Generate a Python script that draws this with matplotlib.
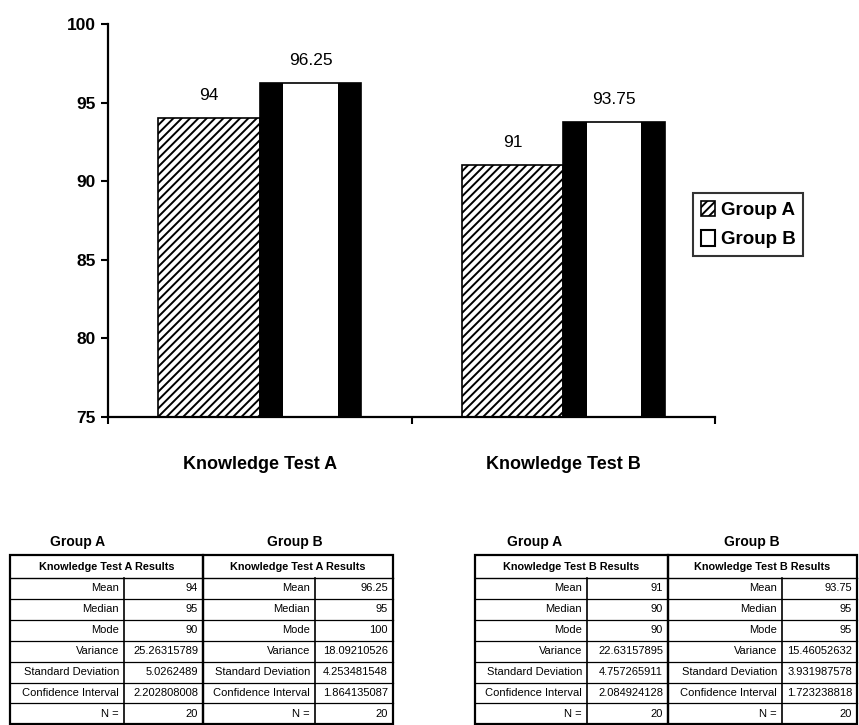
import matplotlib
matplotlib.use("Agg")
import matplotlib.pyplot as plt
from matplotlib.patches import Patch, Rectangle

plt.rcParams["font.family"] = ["Liberation Sans", "DejaVu Sans"]
plt.rcParams["hatch.linewidth"] = 1.4

# Mean scores per test
categories = ["Knowledge Test A", "Knowledge Test B"]
groups = ["Group A", "Group B"]
means_a = [94, 91]
means_b = [96.25, 93.75]
y_ticks = [75, 80, 85, 90, 95, 100]

# Summary statistics tables
stat_labels = ["Mean", "Median", "Mode", "Variance", "Standard Deviation",
               "Confidence Interval", "N ="]
test_a_group_a = ["94", "95", "90", "25.26315789", "5.0262489", "2.202808008", "20"]
test_a_group_b = ["96.25", "95", "100", "18.09210526", "4.253481548", "1.864135087", "20"]
test_b_group_a = ["91", "90", "90", "22.63157895", "4.757265911", "2.084924128", "20"]
test_b_group_b = ["93.75", "95", "95", "15.46052632", "3.931987578", "1.723238818", "20"]
table_headers = ["Knowledge Test A Results", "Knowledge Test A Results",
                 "Knowledge Test B Results", "Knowledge Test B Results"]

W, H = 859, 725
fig = plt.figure(figsize=(W / 100, H / 100), dpi=100)
fig.patch.set_facecolor("white")

# ---- bar chart ----
ax = fig.add_axes([108 / W, 1 - 417 / H, (715 - 108) / W, (417 - 24) / H])
x = range(len(categories))
w = 0.335
strip = 0.078
xa = [i - w / 2 for i in x]
xb = [i + w / 2 for i in x]

ax.bar(xa, [m - 75 for m in means_a], bottom=75, width=w, facecolor="white",
       edgecolor="black", hatch="////", linewidth=1.2, zorder=2)
ax.bar(xb, [m - 75 for m in means_b], bottom=75, width=w, facecolor="white",
       edgecolor="black", linewidth=1.2, zorder=2)
# dark side bands on the Group B bars
ax.bar([p - w / 2 + strip / 2 for p in xb], [m - 75 for m in means_b], bottom=75,
       width=strip, color="black", linewidth=0, zorder=3)
ax.bar([p + w / 2 - strip / 2 for p in xb], [m - 75 for m in means_b], bottom=75,
       width=strip, color="black", linewidth=0, zorder=3)

for xs, vals in ((xa, means_a), (xb, means_b)):
    for p, v in zip(xs, vals):
        ax.annotate(f"{v:g}", (p, v), xytext=(0, 16.5), textcoords="offset points",
                    ha="center", va="center", fontsize=12.5)

ax.set_xlim(-0.5, 1.5)
ax.set_ylim(75, 100)
ax.set_yticks(y_ticks)
ax.set_yticklabels([str(t) for t in y_ticks], fontsize=12.5, fontweight="bold")
ax.set_xticks([-0.5, 0.5, 1.5])
ax.set_xticklabels([])
ax.set_xticks(list(x), minor=True)
ax.set_xticklabels(categories, minor=True, fontsize=13, fontweight="bold")
ax.tick_params(axis="x", which="minor", length=0, pad=28)
ax.tick_params(axis="both", which="major", direction="out", length=5, width=1.5,
               colors="black")
ax.tick_params(axis="y", pad=4)
for side in ("top", "right"):
    ax.spines[side].set_visible(False)
for side in ("left", "bottom"):
    ax.spines[side].set_linewidth(1.6)

handles = [Patch(facecolor="white", edgecolor="black", hatch="////", linewidth=1.2),
           Patch(facecolor="white", edgecolor="black", linewidth=1.5)]
leg = ax.legend(handles, groups, loc="upper left",
                bbox_to_anchor=(693 / W, 1 - 193 / H), bbox_transform=fig.transFigure,
                frameon=True, fancybox=False, edgecolor="black", borderpad=0.4,
                handlelength=0.75, handleheight=0.9, handletextpad=0.35,
                labelspacing=0.6, borderaxespad=0,
                prop={"size": 13.5, "weight": "bold"})
leg.get_frame().set_linewidth(1.5)

# ---- statistics tables, drawn in pixel coordinates ----
tx = fig.add_axes([0, 0, 1, 1], zorder=-1)
tx.set_xlim(0, W)
tx.set_ylim(H, 0)
tx.axis("off")

table_data = [test_a_group_a, test_a_group_b, test_b_group_a, test_b_group_b]
# left edge, column divider, right edge of each table
table_cols = [(10, 124, 203), (203, 315, 393), (475, 587, 668), (668, 782, 857)]
title_x = [78, 295, 535, 752]
top, head_h, row_h = 555, 23, 20.9

for k, (vals, (x0, xm, x1)) in enumerate(zip(table_data, table_cols)):
    bottom = top + head_h + row_h * len(stat_labels)
    tx.text(title_x[k], 542, groups[k % 2], ha="center", va="center",
            fontsize=10, fontweight="bold")
    tx.add_patch(Rectangle((x0, top), x1 - x0, bottom - top, fill=False,
                           edgecolor="black", linewidth=1.6))
    tx.plot([x0, x1], [top + head_h] * 2, color="black", linewidth=1.0)
    tx.plot([xm, xm], [top + head_h, bottom], color="black", linewidth=1.2)
    tx.text((x0 + x1) / 2, top + head_h / 2, table_headers[k], ha="center",
            va="center", fontsize=7.8, fontweight="bold")
    for r, (lab, val) in enumerate(zip(stat_labels, vals)):
        y0 = top + head_h + r * row_h
        if r > 0:
            tx.plot([x0, x1], [y0, y0], color="black", linewidth=0.9)
        yc = y0 + row_h / 2
        tx.text(xm - 5, yc, lab, ha="right", va="center", fontsize=8)
        tx.text(x1 - 5, yc, val, ha="right", va="center", fontsize=8)

fig.savefig("out.png", dpi=100, facecolor="white")
